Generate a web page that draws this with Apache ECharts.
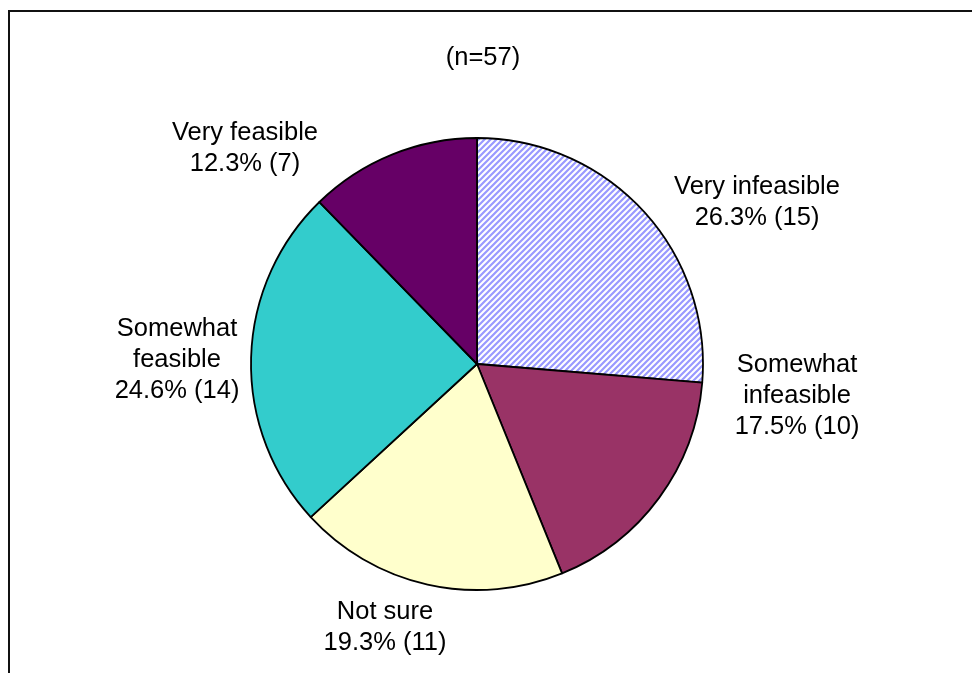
<!DOCTYPE html>
<html>
<head>
<meta charset="utf-8">
<script src="https://cdn.jsdelivr.net/npm/echarts@6/dist/echarts.min.js"></script>
<style>
html,body{margin:0;padding:0;background:#fff;}
#main{width:972px;height:673px;}
</style>
</head>
<body>
<div id="main"></div>
<script>
// ---- data ----
const categories = ['Very infeasible', 'Somewhat\ninfeasible', 'Not sure', 'Somewhat\nfeasible', 'Very feasible'];
const counts = [15, 10, 11, 14, 7];
const subtitle = '(n=57)';

// ---- styles ----
const sliceColors = [null, '#993366', '#FFFFCC', '#33CCCC', '#660066'];
const labelCenters = [[757, 202], [797, 396], [385, 627], [177, 360], [245, 148]];
const FONT = "'Liberation Sans', Arial, sans-serif";

function hatch() {
  const n = 6;
  const c = document.createElement('canvas');
  c.width = n; c.height = n;
  const ctx = c.getContext('2d');
  ctx.fillStyle = '#ffffff';
  ctx.fillRect(0, 0, n, n);
  ctx.strokeStyle = '#9999FF';
  ctx.lineWidth = 2.2;
  ctx.beginPath();
  ctx.moveTo(-1, n + 1); ctx.lineTo(n + 1, -1);
  ctx.moveTo(-1, 1); ctx.lineTo(1, -1);
  ctx.moveTo(n - 1, n + 1); ctx.lineTo(n + 1, n - 1);
  ctx.stroke();
  return c;
}

const chart = echarts.init(document.getElementById('main'), null, {renderer: 'canvas'});
const data = categories.map((name, i) => ({
  name: name,
  value: counts[i],
  itemStyle: { color: i === 0 ? { image: hatch(), repeat: 'repeat' } : sliceColors[i] }
}));

chart.setOption({
  backgroundColor: '#ffffff',
  animation: false,
  title: {
    text: subtitle,
    left: 478,
    top: 40,
    textAlign: 'center',
    textStyle: { fontFamily: FONT, fontSize: 25.5, fontWeight: 'normal', color: '#000' }
  },
  graphic: [{
    type: 'rect',
    shape: { x: 9, y: 11, width: 1000, height: 700 },
    style: { fill: 'none', stroke: '#111', lineWidth: 2 },
    silent: true
  }],
  series: [{
    type: 'pie',
    center: [477, 364],
    radius: [0, 226],
    startAngle: 90,
    clockwise: true,
    percentPrecision: 1,
    data: data,
    itemStyle: { borderColor: '#000', borderWidth: 1.8 },
    label: {
      show: true,
      position: 'outside',
      formatter: '{b}\n{d}% ({c})',
      fontFamily: FONT,
      fontSize: 25.5,
      lineHeight: 31,
      color: '#000'
    },
    labelLine: { show: false },
    labelLayout: function (p) {
      const c = labelCenters[p.dataIndex];
      return { x: c[0], y: c[1], align: 'center', verticalAlign: 'middle' };
    },
    emphasis: { disabled: true }
  }]
});
</script>
</body>
</html>
